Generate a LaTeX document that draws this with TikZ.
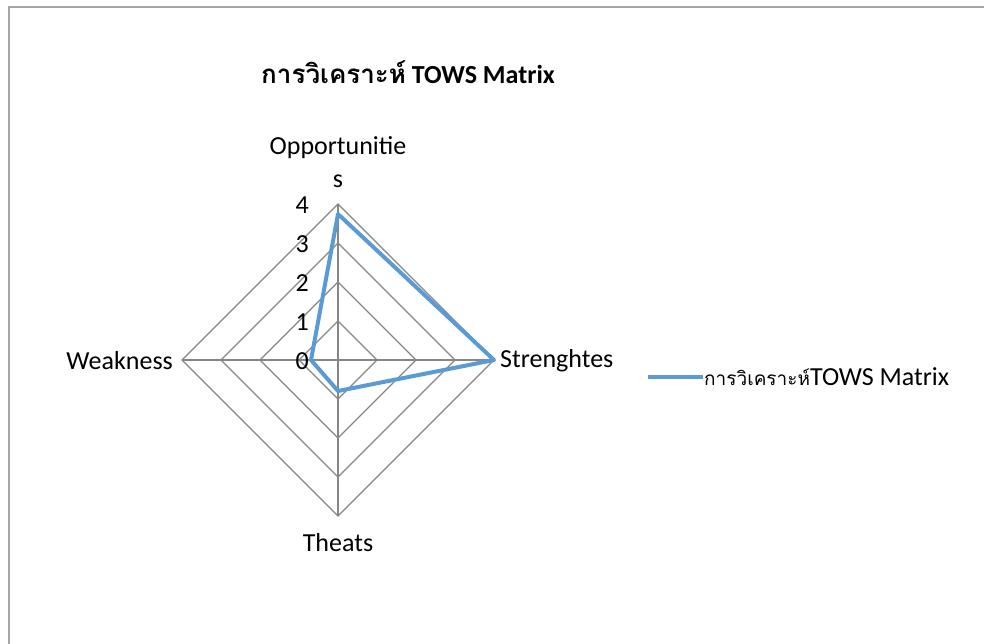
\documentclass[tikz,border=0pt]{standalone}
\usepackage{fontspec}
\setmainfont{Carlito}
\newfontfamily\thaifont[Script=Thai]{Loma}
\definecolor{gridgray}{RGB}{134,134,134}
\definecolor{seriesblue}{RGB}{91,155,213}
\definecolor{framegray}{RGB}{166,166,166}
\tikzset{
  gridline/.style={draw=gridgray, line width=1.2pt},
  seriesline/.style={draw=seriesblue, line width=4pt, line join=round},
}
\begin{document}
\begin{tikzpicture}[x=1pt, y=-1pt, font=\fontsize{26}{30}\selectfont]
    \useasboundingbox (0,0) rectangle (984,643);
        \draw[framegray, line width=2pt] (9,7) rectangle (1000,660);
        % rings and spokes
        \foreach \r in {1,...,4}
            \draw[gridline] (338,360-39*\r) -- (338+39*\r,360) -- (338,360+39*\r) -- (338-39*\r,360) -- cycle;
        \coordinate (top) at (338,204);
        \coordinate (right) at (494,360);
        \coordinate (bottom) at (338,516);
        \coordinate (left) at (182,360);
        \draw[gridline] (top) -- (bottom);
        \draw[gridline] (left) -- (right);
        \foreach \v in {0,...,4}
            \node[anchor=east, inner sep=0pt] (tick\v) at (309,361-39*\v) {\v};
        % axis labels
        \node[anchor=south, inner sep=2pt] (opp) at (338,199) {\begin{tabular}{@{}c@{}}Opportunitie\\[3pt]s\end{tabular}};
        \node[anchor=west, inner sep=0pt] (str) at (500,361) {Strenghtes};
        \node[anchor=east, inner sep=0pt] (weak) at (173,361) {Weakness};
        \node[anchor=north, inner sep=0pt] (thr) at (338,533) {Theats};
        % data
        \coordinate (dO) at (338,214);
        \coordinate (dS) at (494,360);
        \coordinate (dT) at (338,391);
        \coordinate (dW) at (311,360);
        \draw[seriesline] (dO) -- (dS) -- (dT) -- (dW) -- cycle;
        % title and legend
        \node[anchor=west, inner sep=0pt] (title) at (261,72) {\bfseries{\thaifont การวิเคราะห์} TOWS Matrix};
        \coordinate (legA) at (648,377);
        \coordinate (legB) at (703,377);
        \draw[seriesblue, line width=4pt] (legA) -- (legB);
        \node[anchor=west, inner sep=1pt] (legtext) at (legB) {{\thaifont\fontsize{19}{22}\selectfont การวิเคราะห์}TOWS Matrix};
    \end{tikzpicture}
\end{document}
